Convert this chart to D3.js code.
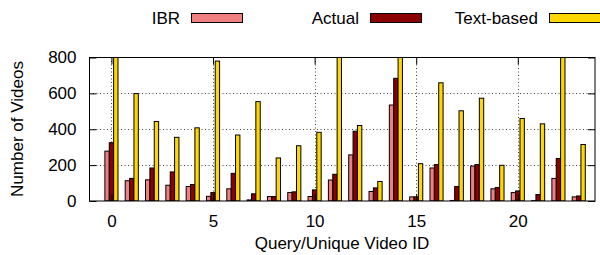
<!DOCTYPE html>
<html>
<head>
<meta charset="utf-8">
<script src="https://cdn.jsdelivr.net/npm/d3@7"></script>
<style>
  body { margin: 0; background: #fff; }
  text { font-family: "Liberation Sans", Arial, sans-serif; fill: #000; }
</style>
</head>
<body>
<svg id="chart" width="600" height="255"></svg>
<script>
'use strict';

// values, one per query id 0..23
const queryIds = d3.range(24);
const ibr = [278, 113, 118, 88, 81, 26, 68, 6, 25, 47, 25, 117, 257, 53, 535, 23, 184, 3, 195, 68, 47, 2, 126, 23];
const actual = [325, 126, 184, 162, 92, 47, 154, 40, 25, 51, 62, 149, 389, 73, 684, 23, 203, 81, 203, 75, 56, 36, 237, 28];
const textBased = [900, 599, 443, 355, 408, 780, 368, 554, 240, 308, 383, 900, 421, 109, 900, 208, 659, 503, 573, 199, 460, 430, 900, 315];
const seriesNames = ['IBR', 'Actual', 'Text-based'];
const seriesColors = ['#f08080', '#8b0000', '#ffd700'];
const yTicks = [0, 200, 400, 600, 800];
const xTicks = [0, 5, 10, 15, 20];

const series = [ibr, actual, textBased];

const svg = d3.select('#chart');
const plotL = 89.5, plotR = 595, plotT = 57.5, plotB = 201;
const fontSize = 17;

const x = d3.scaleLinear().domain([-1.08, 23.8]).range([plotL, plotR]);
const y = d3.scaleLinear().domain([0, 800]).range([plotB, plotT]);
const step = x(1) - x(0);
const barW = step * 0.215;

svg.append('defs').append('clipPath').attr('id', 'plotclip')
    .append('rect')
    .attr('x', plotL).attr('y', plotT)
    .attr('width', plotR - plotL).attr('height', plotB - plotT);

// grid
const grid = svg.append('g')
    .attr('stroke', '#444')
    .attr('stroke-width', 1)
    .attr('stroke-dasharray', '1,2.5');
grid.selectAll('.gy').data(yTicks.slice(1, -1)).enter().append('line')
    .attr('x1', plotL).attr('x2', plotR)
    .attr('y1', d => Math.round(y(d)) + 0.5).attr('y2', d => Math.round(y(d)) + 0.5);
grid.selectAll('.gx').data(xTicks).enter().append('line')
    .attr('x1', d => Math.round(x(d)) + 0.5).attr('x2', d => Math.round(x(d)) + 0.5)
    .attr('y1', plotT).attr('y2', plotB);

// bars
const bars = svg.append('g').attr('clip-path', 'url(#plotclip)');
series.forEach((vals, s) => {
    bars.selectAll('.b' + s).data(vals).enter().append('rect')
        .attr('x', (d, i) => x(queryIds[i]) + (s - 1.5) * barW)
        .attr('width', barW)
        .attr('y', d => y(d))
        .attr('height', d => y(0) - y(d))
        .attr('fill', seriesColors[s])
        .attr('stroke', '#000')
        .attr('stroke-width', 1);
});

// frame
svg.append('rect')
    .attr('x', plotL).attr('y', plotT)
    .attr('width', plotR - plotL).attr('height', plotB - plotT)
    .attr('fill', 'none').attr('stroke', '#000').attr('stroke-width', 1);

// axes: ticks inward, mirrored
const yAxisL = d3.axisLeft(y).tickValues(yTicks).tickSizeInner(-7).tickSizeOuter(0).tickPadding(13);
const yAxisR = d3.axisRight(y).tickValues(yTicks).tickSizeInner(-7).tickSizeOuter(0).tickFormat('');
const xAxisB = d3.axisBottom(x).tickValues(xTicks).tickSizeInner(-7).tickSizeOuter(0).tickPadding(14);
const xAxisT = d3.axisTop(x).tickValues(xTicks).tickSizeInner(-7).tickSizeOuter(0).tickFormat('');

function styleAxis(g) {
    g.select('.domain').remove();
    g.selectAll('line').attr('stroke', '#000');
    g.selectAll('text').attr('font-size', fontSize).attr('fill', '#000')
        .style('font-family', '"Liberation Sans", Arial, sans-serif');
}

svg.append('g').attr('transform', `translate(${plotL},0)`).call(yAxisL).call(styleAxis);
svg.append('g').attr('transform', `translate(${plotR},0)`).call(yAxisR).call(styleAxis);
svg.append('g').attr('transform', `translate(0,${plotB})`).call(xAxisB).call(styleAxis);
svg.append('g').attr('transform', `translate(0,${plotT})`).call(xAxisT).call(styleAxis);

// axis titles
svg.append('text')
    .attr('x', 342).attr('y', 249)
    .attr('text-anchor', 'middle')
    .attr('font-size', fontSize)
    .text('Query/Unique Video ID');

svg.append('text')
    .attr('transform', 'translate(23,129) rotate(-90)')
    .attr('text-anchor', 'middle')
    .attr('font-size', fontSize)
    .text('Number of Videos');

// legend
const legendRight = [180, 359, 538];
const legend = svg.append('g');
seriesNames.forEach((name, s) => {
    legend.append('text')
        .attr('x', legendRight[s]).attr('y', 24)
        .attr('text-anchor', 'end')
        .attr('font-size', fontSize)
        .text(name);
    legend.append('rect')
        .attr('x', legendRight[s] + 11.5).attr('y', 13.5)
        .attr('width', 51).attr('height', 9)
        .attr('fill', seriesColors[s])
        .attr('stroke', '#000').attr('stroke-width', 1);
});
</script>
</body>
</html>
